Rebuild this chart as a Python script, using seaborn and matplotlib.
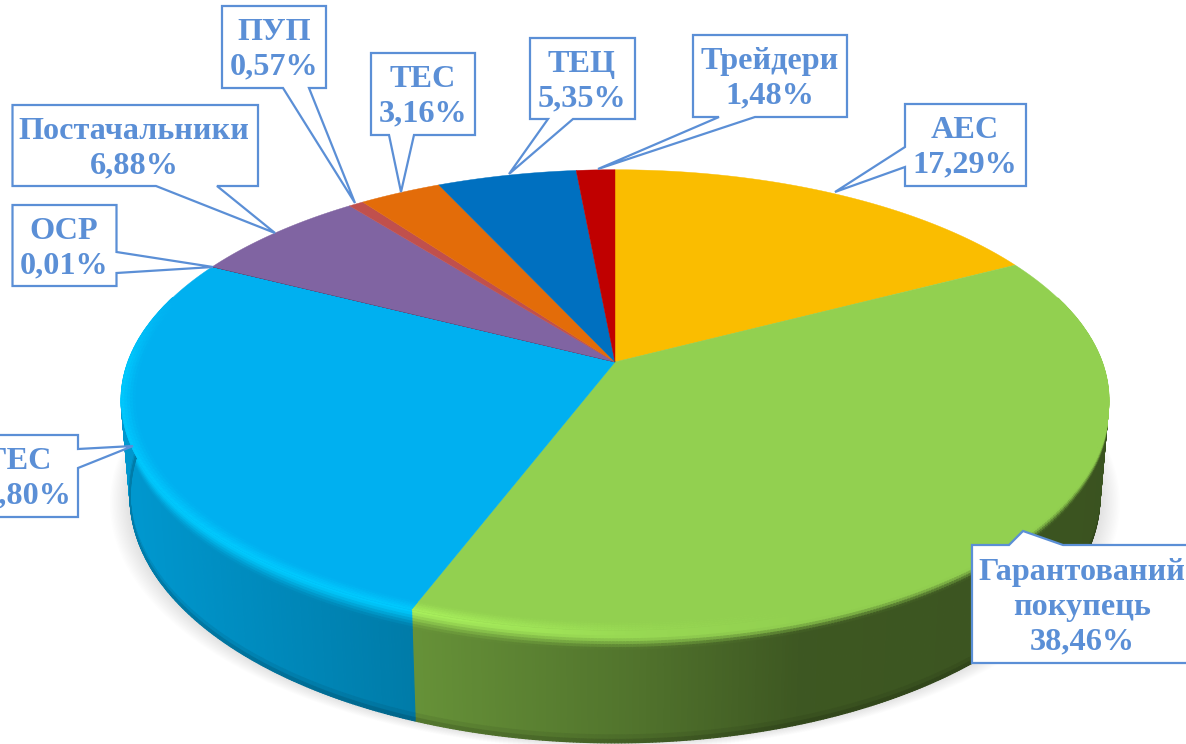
import numpy as np
import pandas as pd
import seaborn as sns
import matplotlib.pyplot as plt
from matplotlib.collections import PolyCollection

categories = ['АЕС', 'Гарантований\nпокупець', 'ГЕС', 'ОСР', 'Постачальники', 'ПУП', 'ТЕС', 'ТЕЦ', 'Трейдери']
shares = [17.29, 38.46, 26.80, 0.01, 6.88, 0.57, 3.16, 5.35, 1.48]
slice_colors = ['#FABD00', '#92D050', '#00B0F0', '#3B2A50', '#8064A2', '#C0504D', '#E36C09', '#0070C0', '#C00000']

# callout boxes in picture pixels: left, top, right, bottom
boxes = [(905, 104, 1026, 186), (972, 545, 1196, 663), (-14, 435, 78, 517), (12.5, 205, 116.5, 286),
         (12.5, 105, 258, 186), (222, 6, 326, 88), (371, 53, 475, 135), (530, 38, 635, 119), (693, 35, 847, 117)]
# tail: side of the box it leaves, first base point, tip, second base point
tails = [('left', (905, 167), (835, 192), (905, 147)), ('top', (1009, 545), (1023, 531), (1063, 545)),
         ('right', (78, 449), (133, 446), (78, 468)), ('right', (116.5, 252), (213, 267), (116.5, 273)),
         ('bottom', (217, 186), (275, 233), (156, 186)), ('bottom', (309, 88), (355, 203), (283, 88)),
         ('bottom', (414, 135), (401, 192), (389, 135)), ('bottom', (573, 119), (509, 174), (548, 119)),
         ('bottom', (755, 117), (598, 169), (719, 117))]
text_x = [965, 1082, 19, 64, 134, 274, 423, 582, 770]

BOX_BLUE = '#5B8FD6'
CX, CY = 615, 362
RX, SY, K = 487, 224, 0.165
DEPTH = 94
BEVEL = 0.18

sns.set_theme(style='white')
plt.rcParams['font.family'] = ['Liberation Serif', 'DejaVu Serif']

df = pd.DataFrame({'name': categories, 'share': shares})
df['end'] = df['share'].cumsum() / df['share'].sum() * 2 * np.pi
df['start'] = df['end'].shift(1, fill_value=0)
palette = sns.color_palette(slice_colors)


def project(theta, r=1.0, z=0.0):
    # tilted disc seen in perspective, z is how far down the side
    u, v = r * np.sin(theta), -r * np.cos(theta)
    w = 1 - K * v
    x = CX + RX * u / w * (1 - 0.018 * z)
    y = CY + SY * v / w + DEPTH * z / w
    return x, y


def side_shade(x):
    return np.interp(x, [130, 412, 640, 800, 1110], [0.86, 0.70, 0.55, 0.42, 0.40])


def mix(a, b, t):
    return tuple(a[i] * (1 - t) + b[i] * t for i in range(3))


def quad(t0, t1, r0=1.0, r1=1.0, z0=0.0, z1=0.0):
    return [project(t0, r0, z0), project(t1, r0, z0), project(t1, r1, z1), project(t0, r1, z1)]


fig = plt.figure(figsize=(11.86, 7.44), dpi=100)
ax = fig.add_axes([0, 0, 1, 1])
ax.set_xlim(0, 1186)
ax.set_ylim(744, 0)
ax.axis('off')

# soft shadow under the disc
ring = np.linspace(0, 2 * np.pi, 361)
for d in np.linspace(20, 0, 16):
    sx, sy = project(ring, z=1.0)
    sx = CX + (sx - CX) * (1 + d / 480)
    sy = sy + d * 0.35
    ax.fill(sx, sy, color='black', alpha=0.0075, lw=0, zorder=1)

# side wall, split in small strips so the shading can run along it
polys, cols = [], []
bevel_z = np.linspace(0, BEVEL, 8)
for row, base in zip(df.itertuples(), palette):
    n = max(2, int((row.end - row.start) / 0.006))
    edges = np.linspace(row.start, row.end, n + 1)
    bright = tuple(min(1, c * 1.15) for c in base)
    for t0, t1 in zip(edges[:-1], edges[1:]):
        tm = (t0 + t1) / 2
        if -np.cos(tm) < -0.3:
            continue
        xm = project(tm)[0]
        f = side_shade(xm)
        h = np.interp(xm, [130, 430, 640, 800], [1, 1, 0.25, 0])
        wall = tuple(c * f for c in base)
        peak = mix(base, bright, h)
        for z0, z1 in zip(bevel_z[:-1], bevel_z[1:]):
            p = (z0 + z1) / 2 / BEVEL
            lag = (1 - h) * 0.45
            p = np.clip((p - lag) / (1 - lag), 0, 1)
            polys.append(quad(t0, t1, z0=z0, z1=z1))
            cols.append(mix(peak, wall, p * p * (3 - 2 * p)))
        for z0, z1, g in [(BEVEL, 0.93, 1), (0.93, 0.97, 0.93), (0.97, 1.0, 0.82)]:
            polys.append(quad(t0, t1, z0=z0, z1=z1))
            cols.append(tuple(c * g for c in wall))
ax.add_collection(PolyCollection(polys, facecolors=cols, edgecolors=cols, linewidths=0.9, zorder=2))

# flat top of each slice
for row, base in zip(df.itertuples(), palette):
    t = np.linspace(row.start, row.end, max(3, int((row.end - row.start) / 0.01)))
    x, y = project(t)
    ax.fill(np.r_[CX, x], np.r_[CY, y], color=base, lw=0.3, zorder=3)

# rounded edge on the top, runs into the wall bevel above
polys, cols = [], []
band = np.linspace(0.972, 1.0, 6)
for row, base in zip(df.itertuples(), palette):
    n = max(2, int((row.end - row.start) / 0.006))
    edges = np.linspace(row.start, row.end, n + 1)
    bright = tuple(min(1, c * 1.15) for c in base)
    for t0, t1 in zip(edges[:-1], edges[1:]):
        tm = (t0 + t1) / 2
        fade = np.clip((-np.cos(tm) + 0.3) / 0.3, 0, 1)
        if fade == 0:
            continue
        xm = project(tm)[0]
        h = np.interp(xm, [130, 430, 640, 800], [1, 1, 0.25, 0])
        for r0, r1 in zip(band[:-1], band[1:]):
            p = (0.5 * (r0 + r1) - band[0]) / (band[-1] - band[0])
            polys.append(quad(t0, t1, r0=r0, r1=r1))
            cols.append(mix(base, mix(base, bright, h), p * fade))
ax.add_collection(PolyCollection(polys, facecolors=cols, edgecolors=cols, linewidths=0.3, zorder=4))

# callouts
for name, share, box, tail, tx in zip(categories, shares, boxes, tails, text_x):
    l, t, r, b = box
    side, base0, tip, base1 = tail
    # outline runs clockwise from the top left corner
    corners = {'top': [(l, t)], 'right': [(r, t)], 'bottom': [(r, b)], 'left': [(l, b)]}
    corners[side] = corners[side] + [base0, tip, base1]
    pts = corners['top'] + corners['right'] + corners['bottom'] + corners['left']
    xs, ys = zip(*pts)
    ax.fill(xs, ys, facecolor='white', edgecolor=BOX_BLUE, lw=1.6, joinstyle='miter', zorder=5)
    label = name + '\n' + f'{share:.2f}'.replace('.', ',') + '%'
    ax.text(tx, (t + b) / 2 + 3, label, ha='center', va='center', color=BOX_BLUE, fontsize=23.2,
            fontweight='bold', linespacing=1.25, zorder=6)

plt.savefig('out.png', dpi=100)
